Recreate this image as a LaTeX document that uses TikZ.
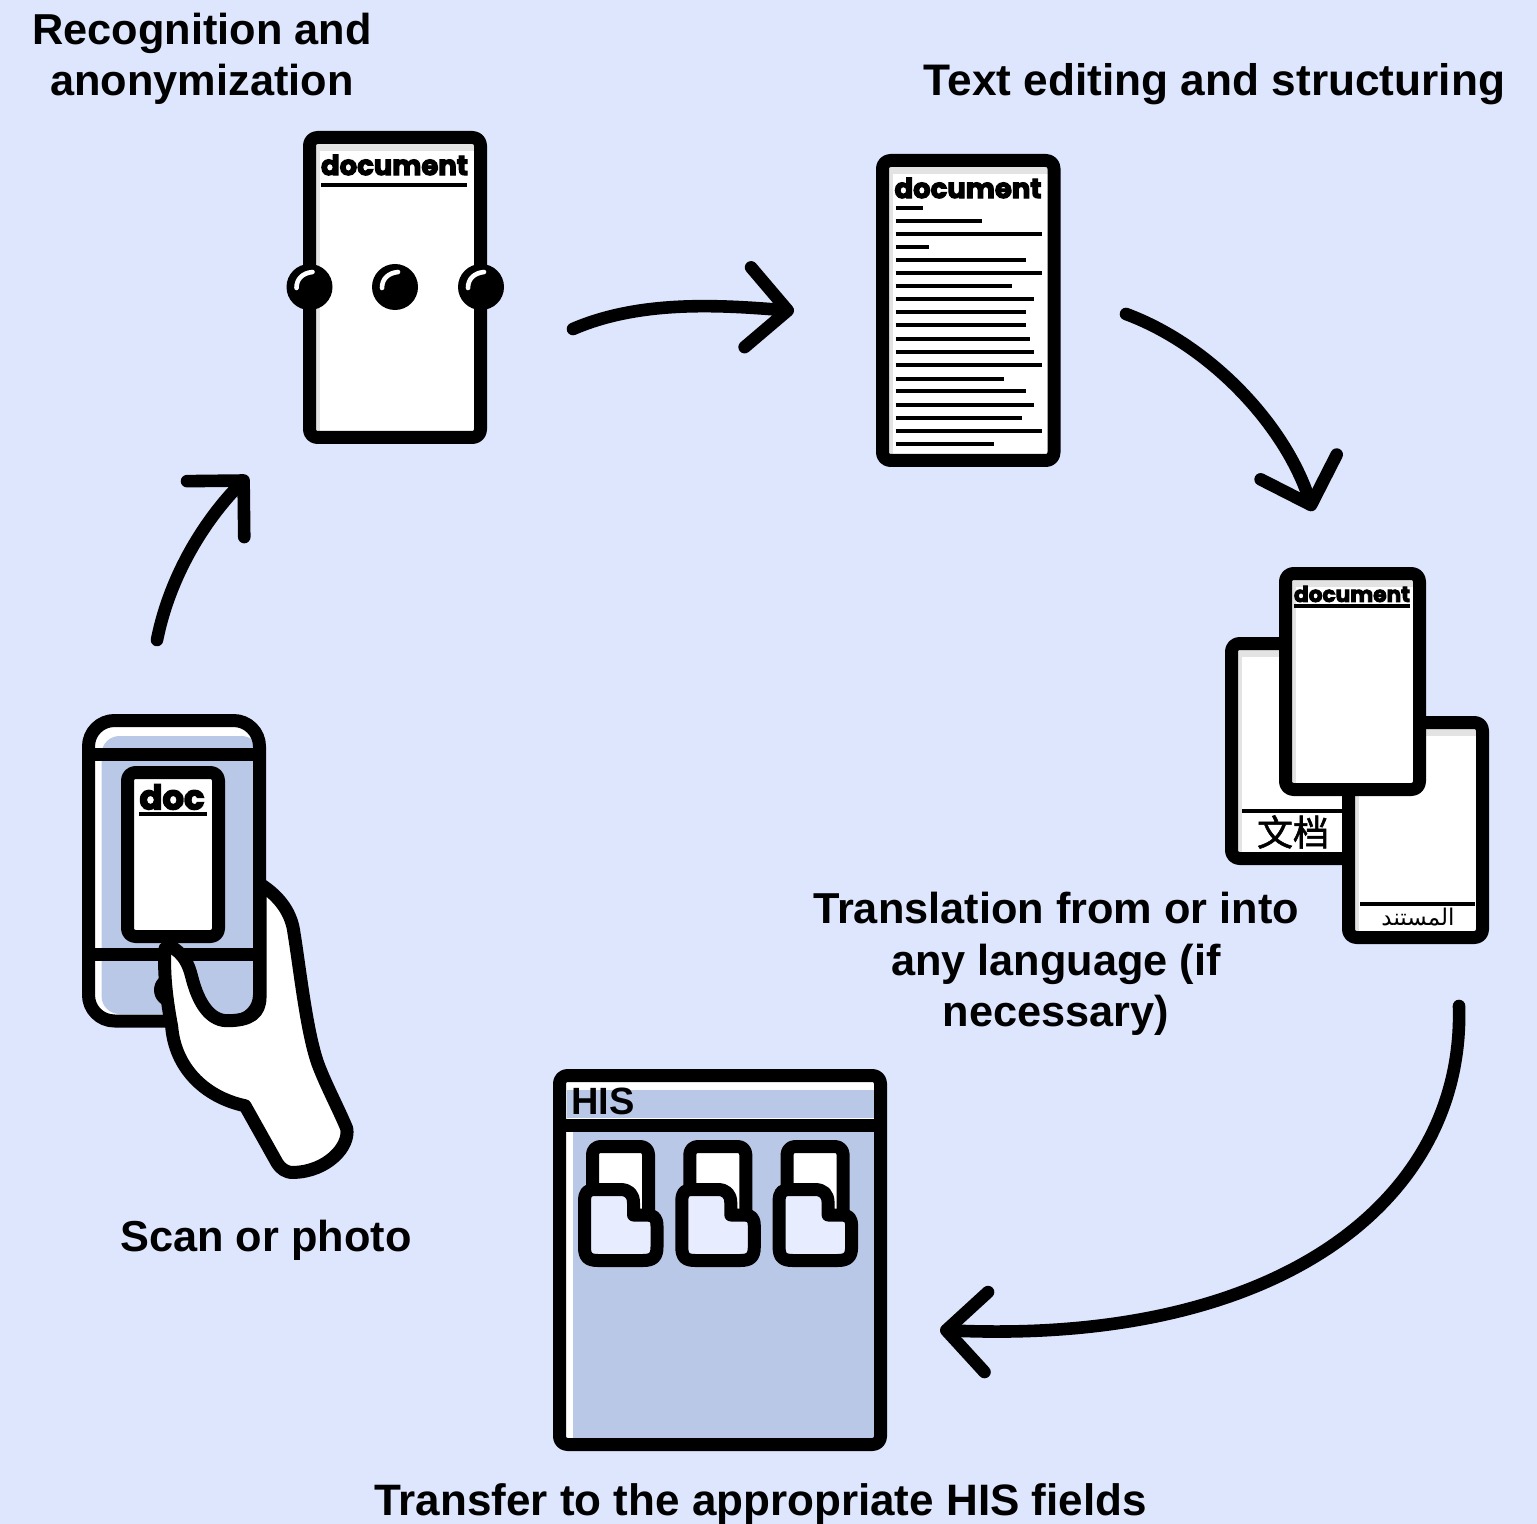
\documentclass[tikz,border=0pt]{standalone}
\usepackage{fontspec}
\usepackage{graphicx}
\usetikzlibrary{arrows.meta,calc}
\TeXXeTstate=1
\setmainfont{Liberation Sans}
\newfontfamily\heavyfont{Poppins}[UprightFont=* Bold,FakeBold=4]
\newfontfamily\cjkfont{Noto Sans CJK SC}[FakeBold=1.5]
\newfontfamily\arabicfont[Script=Arabic]{DejaVu Sans}
\definecolor{pagebg}{HTML}{DEE6FE}
\definecolor{panelblue}{HTML}{BAC8E8}
\definecolor{sheetgray}{HTML}{E3E3E3}
\definecolor{folderpale}{HTML}{E7ECFE}
\tikzset{
  frame/.style={draw=black,line width=6.5pt,line join=round,rounded corners=4pt},
  rule/.style={draw=black,line width=2pt},
  thickrule/.style={draw=black,line width=6.5pt},
  heading/.style={font=\bfseries\fontsize{21.65}{25.8}\selectfont,align=center,text=black,inner sep=0pt},
  flow/.style={draw=black,line width=6.3pt,line cap=round,-{Straight Barb[round,length=20pt,width=40pt]}},
  folderpic/.pic={
    \draw[frame,fill=white] (592.5,1215) -- (592.5,1146.5) -- (648.5,1146.5) -- (648.5,1222) -- cycle;
    \draw[draw=black,fill=folderpale,line width=6.5pt,line join=round]
      (584.5,1202) .. controls (584.5,1192) and (587,1189.5) .. (596,1189.5)
      -- (620,1189.5) .. controls (629,1189.5) and (633.5,1194) .. (633.5,1203)
      -- (633.5,1215) -- (647,1215) .. controls (654,1215) and (657,1218) .. (657,1226)
      -- (657,1247) .. controls (657,1257) and (653,1260.5) .. (643,1260.5)
      -- (598,1260.5) .. controls (588,1260.5) and (584.5,1257) .. (584.5,1247) -- cycle;
  },
  eyepic/.pic={
    \fill[black] (0,0) circle[radius=11.5pt];
    \draw[white,line width=2.3pt,line cap=round] (-13,1) .. controls (-13,-8) and (-7,-14) .. (3,-15);
  }
}
\newcommand{\sheetbox}[4]{%
  \fill[sheetgray] (#1,#2) rectangle (#3,#4);
  \fill[white] (#1,#2) ++(10.5,13.5) rectangle (#3,#4);
  \draw[frame] (#1,#2) rectangle (#3,#4);
}
\newcommand{\heavytitle}[1]{{\heavyfont #1}}
\begin{document}
\begin{tikzpicture}[x=0.5pt,y=-0.5pt]
\useasboundingbox (0,0) rectangle (1537,1524);
\fill[pagebg] (0,0) rectangle (1537,1524);

% --- phone
\fill[white,rounded corners=12pt] (88.5,720.5) rectangle (259.5,1021);
\fill[panelblue,rounded corners=9pt] (101.5,736) rectangle (259.5,1014);
\draw[frame,rounded corners=13pt,fill=none] (88.5,720.5) rectangle (259.5,1021);
\draw[thickrule] (88.5,754) -- (259.5,754);
\draw[thickrule] (88.5,954) -- (259.5,954);
\fill[black] (171,990) circle[radius=8.5pt];
\draw[frame,fill=white] (127.5,772.5) rectangle (218.5,936.5);
\node[inner sep=0pt] (doctitle) at (172,797) {\resizebox{32.5pt}{!}{\heavytitle{doc}}};
\draw[rule] (139,813.5) -- (206.5,813.5);

% --- hand
\begin{scope}[shift={(60,700)},x=0.1667pt,y=-0.1667pt]
\draw[black,fill=white,line width=6.5pt,line join=round]
  (600,552) .. controls (660,590) and (695,640) .. (702,700)
  .. controls (720,810) and (740,1000) .. (775,1095)
  .. controls (800,1160) and (835,1225) .. (860,1285)
  .. controls (870,1340) and (800,1415) .. (700,1417)
  .. controls (677,1418) and (662,1405) .. (652,1390)
  -- (555,1217)
  .. controls (430,1190) and (345,1100) .. (335,980)
  .. controls (320,900) and (310,820) .. (315,745)
  -- (330,738)
  .. controls (370,760) and (385,790) .. (395,830)
  .. controls (410,890) and (440,960) .. (500,962)
  .. controls (570,962) and (600,940) .. (600,890)
  -- cycle;
\end{scope}

% --- anonymization sheet
\sheetbox{309.5}{137.5}{480.5}{437.5}
\node[inner sep=0pt] (docA) at (394.5,165) {\resizebox{73.5pt}{!}{\heavytitle{document}}};
\draw[rule] (321,185) -- (467,185);
\pic at (309.5,287) {eyepic};
\pic at (395,287) {eyepic};
\pic at (481,287) {eyepic};

% --- text sheet
\sheetbox{882.5}{160.5}{1054}{460.5}
\node[inner sep=0pt] (docB) at (968,188) {\resizebox{73.5pt}{!}{\heavytitle{document}}};
\foreach \ly/\lx in {207.7/923.3,220.7/982,233.7/1041.7,247/929,259.7/1025.7,272.7/1041.7,285.7/1011.7,298.7/1034.3,312.3/1025.7,325.3/1025.7,338.7/1030,351.7/1034.3,365.3/1041.7,378.7/1004.3,391.3/1025.7,404.7/1034.3,418/1021.7,431.3/1041.7,444/994.3}
  \draw[rule] (895.5,\ly) -- (\lx,\ly);

% --- translated sheets
\sheetbox{1231.5}{643.5}{1365}{858.5}
\draw[rule] (1242,811) -- (1345,811);
\node[inner sep=0pt,font=\cjkfont\fontsize{18}{20}\selectfont] (docZh) at (1293,832) {文档};
\sheetbox{1348.5}{722.5}{1482.5}{937.5}
\draw[rule] (1360,904) -- (1475,904);
\node[inner sep=0pt,font=\arabicfont\fontsize{11.5}{14}\selectfont] (docAr) at (1418,917) {\beginR المستند\endR};
\sheetbox{1285.5}{573.5}{1419.5}{789.5}
\node[inner sep=0pt] (docC) at (1352,594) {\resizebox{58pt}{!}{\heavytitle{document}}};
\draw[rule] (1294,606) -- (1410,606);

% --- HIS window
\fill[white] (559.5,1075.5) rectangle (880.5,1444.5);
\fill[panelblue] (566.5,1090) rectangle (880.5,1118);
\fill[panelblue] (573,1125) rectangle (880.5,1444.5);
\draw[frame] (559.5,1075.5) rectangle (880.5,1444.5);
\draw[thickrule] (559.5,1125) -- (880.5,1125);
\node[anchor=west,inner sep=0pt,font=\bfseries\fontsize{19}{22}\selectfont] (histitle) at (571,1101) {HIS};
\pic at (0,0) {folderpic};
\pic at (97.3,0) {folderpic};
\pic at (194.6,0) {folderpic};

% --- connectors
\coordinate (phoneOut) at (157,640);
\coordinate (anonIn) at (248,476);
\coordinate (anonOut) at (573,329);
\coordinate (textIn) at (794,311);
\coordinate (textOut) at (1126,314);
\coordinate (transIn) at (1313,511);
\coordinate (transOut) at (1459,1006);
\coordinate (hisIn) at (940,1330);
\draw[flow] (phoneOut) .. controls (170,575) and (205,520) .. (anonIn);
\draw[flow] (anonOut) .. controls (640,300) and (720,305) .. (textIn);
\draw[flow] (textOut) .. controls (1210,345) and (1285,425) .. (transIn);
\draw[flow] (transOut) .. controls (1465,1200) and (1280,1345) .. (hisIn);

% --- labels
\node[heading] (l1) at (202,59) {Recognition and\\anonymization};
\node[heading,font=\bfseries\fontsize{22.1}{25.8}\selectfont] (l2) at (1214.5,84) {Text editing and structuring};
\node[heading] (l3) at (1056,964) {Translation from or into\\any language (if\\necessary)};
\node[heading] (l4) at (266,1240) {Scan or photo};
\node[heading,font=\bfseries\fontsize{22}{25.8}\selectfont] (l5) at (760.5,1504) {Transfer to the appropriate HIS fields};
\end{tikzpicture}
\end{document}
